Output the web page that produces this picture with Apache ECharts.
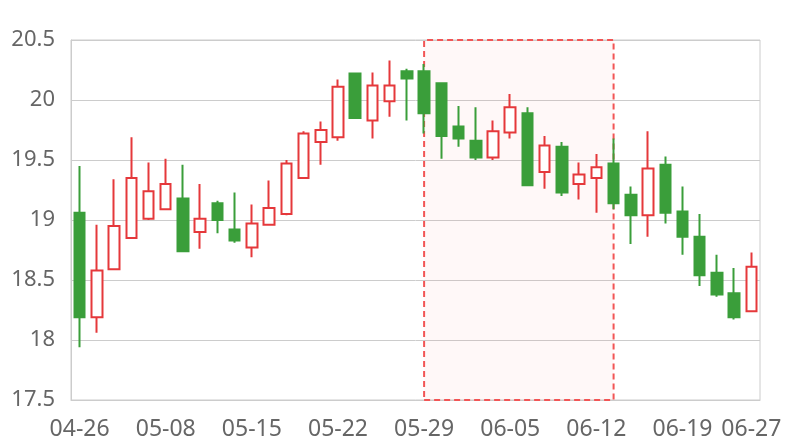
<!DOCTYPE html>
<html>
<head>
<meta charset="utf-8">
<script src="https://cdn.jsdelivr.net/npm/echarts@6/dist/echarts.min.js"></script>
<style>html,body{margin:0;padding:0;background:#fff}#c{width:800px;height:440px}</style>
</head>
<body>
<div id="c"></div>
<script>
var dates = ['04-26','04-27','04-28','05-04','05-05','05-08','05-09','05-10','05-11','05-12',
  '05-15','05-16','05-17','05-18','05-19','05-22','05-23','05-24','05-25','05-26',
  '05-29','05-30','05-31','06-01','06-02','06-05','06-06','06-07','06-08','06-09',
  '06-12','06-13','06-14','06-15','06-16','06-19','06-20','06-21','06-26','06-27'];
var opens  = [19.06,18.19,18.59,18.85,19.01,19.09,19.18,18.90,19.14,18.92,
  18.77,18.96,19.05,19.35,19.65,19.69,20.22,19.83,19.99,20.24,
  20.24,20.14,19.78,19.66,19.52,19.73,19.89,19.40,19.61,19.30,
  19.35,19.47,19.21,19.04,19.46,19.07,18.86,18.56,18.39,18.24];
var closes = [18.19,18.58,18.95,19.35,19.24,19.30,18.74,19.01,19.00,18.83,
  18.97,19.10,19.47,19.72,19.75,20.11,19.85,20.12,20.12,20.18,
  19.89,19.70,19.68,19.52,19.74,19.94,19.29,19.62,19.23,19.38,
  19.44,19.14,19.04,19.43,19.06,18.86,18.54,18.38,18.19,18.61];
var lows   = [17.94,18.06,18.59,18.85,19.00,19.09,18.74,18.76,18.89,18.81,
  18.69,18.96,19.04,19.35,19.46,19.66,19.85,19.68,19.86,19.83,
  19.72,19.51,19.61,19.50,19.50,19.68,19.29,19.26,19.20,19.17,
  19.06,19.09,18.80,18.86,18.97,18.71,18.45,18.36,18.17,18.24];
var highs  = [19.45,18.96,19.34,19.69,19.48,19.51,19.46,19.30,19.16,19.23,
  19.13,19.33,19.50,19.74,19.82,20.17,20.22,20.23,20.33,20.26,
  20.30,20.14,19.95,19.94,19.83,20.05,19.94,19.70,19.65,19.48,
  19.55,19.68,19.28,19.74,19.53,19.28,19.05,18.71,18.60,18.73];
var areaStart = '05-29', areaEnd = '06-13';
var yTicks = {min: 17.5, max: 20.5, interval: 0.5};

var ohlc = dates.map(function (d, i) { return [opens[i], closes[i], lows[i], highs[i]]; });
var chart = echarts.init(document.getElementById('c'));
var font = '"Noto Sans", sans-serif';
chart.setOption({
  animation: false,
  grid: {left: 71, right: 40, top: 40, bottom: 40, containLabel: false, outerBoundsMode: 'none',
    show: true, borderColor: '#cccccc', borderWidth: 1},
  xAxis: {
    type: 'category', data: dates, boundaryGap: true,
    axisLine: {lineStyle: {color: '#cccccc'}},
    axisTick: {show: false},
    splitLine: {show: false},
    axisLabel: {
      color: '#666666', fontSize: 23, fontFamily: font, margin: 18,
      interval: function (i) { return i % 5 === 0 || i === dates.length - 1; }
    }
  },
  yAxis: {
    type: 'value', min: yTicks.min, max: yTicks.max, interval: yTicks.interval, scale: true,
    axisLine: {show: true, lineStyle: {color: '#cccccc'}},
    axisTick: {show: false},
    splitLine: {lineStyle: {color: '#cccccc'}},
    axisLabel: {color: '#666666', fontSize: 22, fontFamily: font, margin: 16}
  },
  series: [{
    type: 'candlestick',
    data: ohlc,
    barWidth: 11,
    itemStyle: {
      color: '#ffffff', borderColor: '#e5383b',
      color0: '#3a9e3a', borderColor0: '#3a9e3a',
      borderWidth: 2
    },
    markArea: {
      silent: true,
      itemStyle: {color: 'rgba(255,80,80,0.04)', borderColor: '#f25555', borderWidth: 2, borderType: [6, 4]},
      data: [[{xAxis: areaStart}, {xAxis: areaEnd}]]
    }
  }]
});
</script>
</body>
</html>
